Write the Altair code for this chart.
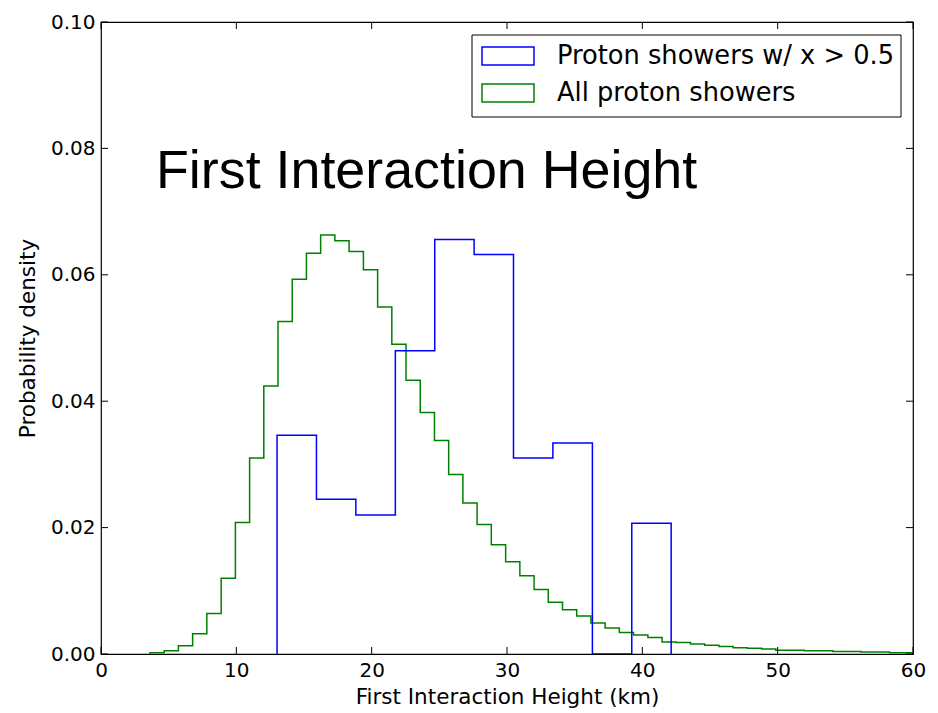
import altair as alt
import pandas as pd

# ---- data ----
series_names = ["Proton showers w/ x > 0.5", "All proton showers"]
series_colors = ["#0000ff", "#008000"]

blue_edges = [13.01, 15.92, 18.83, 21.75, 24.66, 27.57, 30.48, 33.39, 36.31, 39.22, 42.13]
blue_density = [0.0346, 0.0245, 0.0220, 0.0480, 0.0656, 0.0632, 0.0310, 0.0334, 0.0, 0.0207]

green_edges = [3.62, 4.67, 5.72, 6.77, 7.82, 8.88, 9.93, 10.98, 12.03, 13.08,
               14.13, 15.18, 16.23, 17.28, 18.33, 19.39, 20.44, 21.49, 22.54, 23.59,
               24.64, 25.69, 26.74, 27.79, 28.84, 29.90, 30.95, 32.00, 33.05, 34.10,
               35.15, 36.20, 37.25, 38.30, 39.35, 40.41, 41.46, 42.51, 43.56, 44.61,
               45.66, 46.71, 47.76, 48.81, 49.86, 50.92, 51.97, 53.02, 54.07, 55.12,
               56.17, 57.22, 58.27, 59.32, 60.37]
green_density = [0.0002, 0.0005, 0.0013, 0.0032, 0.0064, 0.0120, 0.0208, 0.0310, 0.0424, 0.0526,
                 0.0593, 0.0634, 0.0663, 0.0654, 0.0637, 0.0608, 0.0549, 0.0490, 0.0433, 0.0382,
                 0.0338, 0.0284, 0.0239, 0.0205, 0.0173, 0.0146, 0.0124, 0.0102, 0.0082, 0.0070,
                 0.0060, 0.0049, 0.0041, 0.0034, 0.0030, 0.0026, 0.0019, 0.0018, 0.0016, 0.0014,
                 0.0012, 0.0010, 0.0009, 0.0008, 0.0006, 0.0006, 0.0005, 0.0005, 0.0004, 0.0004,
                 0.0003, 0.0003, 0.0002, 0.0002]

x_ticks = [0, 10, 20, 30, 40, 50, 60]
y_ticks = [0.0, 0.02, 0.04, 0.06, 0.08, 0.10]

title_text = "First Interaction Height"
x_title = "First Interaction Height (km)"
y_title = "Probability density"

W, H = 812, 632
FONT = "DejaVu Sans"


def step_outline(edges, heights, name):
    xs, ys = [edges[0]], [0.0]
    for i, h in enumerate(heights):
        xs += [edges[i], edges[i + 1]]
        ys += [h, h]
    xs.append(edges[-1])
    ys.append(0.0)
    return pd.DataFrame({"x": xs, "y": ys, "order": list(range(len(xs))), "series": name})


blue_df = step_outline(blue_edges, blue_density, series_names[0])
green_df = step_outline(green_edges, green_density, series_names[1])

xscale = alt.Scale(domain=[0, 60], nice=False, zero=False)
yscale = alt.Scale(domain=[0, 0.1], nice=False)
cscale = alt.Scale(domain=series_names, range=series_colors)

x_axis = alt.Axis(values=x_ticks, format="d", ticks=False, domain=False, grid=False,
                  labelFontSize=20, labelFont=FONT, labelColor="black", labelPadding=6,
                  labelFlush=False, labelOverlap=False,
                  title=x_title, titleFontSize=21.5, titleFont=FONT, titleFontWeight="normal",
                  titleColor="black", titlePadding=6)
y_axis = alt.Axis(values=y_ticks, format=".2f", ticks=False, domain=False, grid=False,
                  labelFontSize=20, labelFont=FONT, labelColor="black", labelPadding=6,
                  labelFlush=False, labelOverlap=False,
                  title=y_title, titleFontSize=21.5, titleFont=FONT, titleFontWeight="normal",
                  titleColor="black", titlePadding=11)

X = alt.X("x:Q", scale=xscale, axis=x_axis)
Y = alt.Y("y:Q", scale=yscale, axis=y_axis)


def hist_layer(df):
    return alt.Chart(df).mark_line(strokeWidth=1.5, clip=True).encode(
        x=X, y=Y,
        order="order:Q",
        color=alt.Color("series:N", scale=cscale, legend=None),
    )


green_layer = hist_layer(green_df)
blue_layer = hist_layer(blue_df)

# inward ticks on all four sides
xt = pd.DataFrame({"x": x_ticks})
yt = pd.DataFrame({"y": y_ticks})
tick_style = dict(color="black", strokeWidth=1)
xb = alt.Chart(xt).mark_rule(**tick_style).encode(x=X, y=alt.value(H), y2=alt.value(H - 7))
xtop = alt.Chart(xt).mark_rule(**tick_style).encode(x=X, y=alt.value(0), y2=alt.value(7))
yl = alt.Chart(yt).mark_rule(**tick_style).encode(y=Y, x=alt.value(0), x2=alt.value(7))
yr = alt.Chart(yt).mark_rule(**tick_style).encode(y=Y, x=alt.value(W - 7), x2=alt.value(W))

one = pd.DataFrame({"a": [0]})

title_layer = alt.Chart(one).mark_text(
    text=title_text, font="Liberation Sans", fontSize=53.8, align="left",
    baseline="alphabetic", color="black"
).encode(x=alt.value(55), y=alt.value(166))

# legend
LX0, LX1, LY0, LY1 = 371, 800, 13, 95
legend_box = alt.Chart(one).mark_rect(fill="white", stroke="black", strokeWidth=1).encode(
    x=alt.value(LX0), x2=alt.value(LX1), y=alt.value(LY0), y2=alt.value(LY1))
legend_layers = [legend_box]
row_y = [34, 71]
for name, col, ry in zip(series_names, series_colors, row_y):
    legend_layers.append(
        alt.Chart(one).mark_rect(fill="white", stroke=col, strokeWidth=1.5).encode(
            x=alt.value(381), x2=alt.value(433), y=alt.value(ry - 9), y2=alt.value(ry + 9)))
    legend_layers.append(
        alt.Chart(one).mark_text(text=name, font=FONT, fontSize=25.7, align="left",
                                 baseline="middle", color="black").encode(
            x=alt.value(456), y=alt.value(ry)))

chart = alt.layer(
    green_layer, blue_layer, xb, xtop, yl, yr, title_layer, *legend_layers
).properties(
    width=W, height=H,
    autosize=alt.AutoSizeParams(type="none"),
    padding={"left": 101, "top": 22, "right": 25, "bottom": 59},
    background="white",
).configure_view(stroke="black", strokeWidth=1.2)

chart.save("out.html", embed_options={"renderer": "svg", "actions": False})
